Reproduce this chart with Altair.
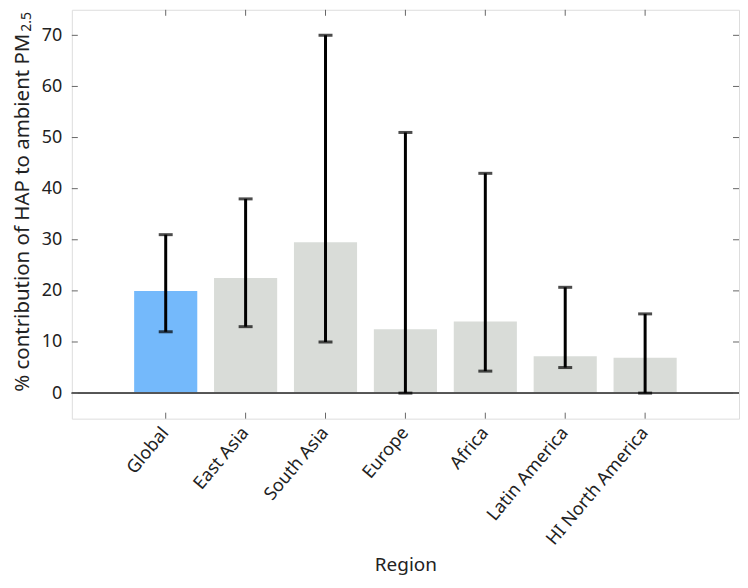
import altair as alt
import pandas as pd

regions = ["Global", "East Asia", "South Asia", "Europe", "Africa", "Latin America", "HI North America"]
values = [20.0, 22.5, 29.5, 12.5, 14.0, 7.2, 6.9]
lows = [12.0, 13.0, 10.0, 0.0, 4.3, 5.0, 0.0]
highs = [31.0, 38.0, 70.0, 51.0, 43.0, 20.7, 15.5]
groups = ["Global", "Region", "Region", "Region", "Region", "Region", "Region"]
y_ticks = [0, 10, 20, 30, 40, 50, 60, 70]
y_title = "% contribution of HAP to ambient PM"
y_title_sub = "2.5"

W, H = 669, 410
FONT = "Noto Sans"

df = pd.DataFrame({"region": regions, "value": values, "low": lows, "high": highs, "group": groups})
ticks_df = pd.DataFrame({"t": y_ticks})

xenc = alt.X("region:N", sort=regions, title="Region",
             scale=alt.Scale(paddingInner=0.21, paddingOuter=0.78),
             axis=alt.Axis(labelAngle=-50, ticks=False, domain=False, labelFontSize=18,
                           titleFontSize=19, titleFontWeight="normal", labelColor="#222",
                           titleColor="#222", labelPadding=11, titlePadding=7,
                           labelFont=FONT, titleFont=FONT))
yscale = alt.Scale(domain=[-5, 75], nice=False, zero=False)

base = alt.Chart(df)

bars = base.mark_bar().encode(
    x=xenc,
    y=alt.Y("value:Q", scale=yscale,
            title=y_title,
            axis=alt.Axis(values=y_ticks, ticks=False, domain=False, grid=False,
                          labelFontSize=18, titleFontSize=20.5, titleFontWeight="normal",
                          labelColor="#222", titleColor="#222", labelPadding=10,
                          titlePadding=9, titleY=203, labelFont=FONT, titleFont=FONT)),
    y2=alt.Y2(datum=0),
    color=alt.Color("group:N", scale=alt.Scale(domain=["Global", "Region"],
                                               range=["#74b9fb", "#d9dcd8"]), legend=None),
)

sub = alt.Chart(pd.DataFrame({"s": [y_title_sub]})).mark_text(
    angle=270, align="left", baseline="middle", fontSize=14, font=FONT, color="#222"
).encode(text="s:N", x=alt.value(-45), y=alt.value(22))

zero = alt.Chart(df).mark_rule(color="#555", strokeWidth=1).encode(
    y=alt.Y(datum=0, scale=yscale))

err = base.mark_rule(color="black", strokeWidth=3).encode(
    x=alt.X("region:N", sort=regions), y="low:Q", y2="high:Q")
cap_lo = base.mark_tick(color="black", thickness=3, size=14, orient="horizontal").encode(
    x=alt.X("region:N", sort=regions), y="low:Q")
cap_hi = base.mark_tick(color="black", thickness=3, size=14, orient="horizontal").encode(
    x=alt.X("region:N", sort=regions), y="high:Q")

top_ticks = base.mark_rule(color="#666", strokeWidth=1).encode(
    x=alt.X("region:N", sort=regions), y=alt.value(0), y2=alt.value(6))
bot_ticks = base.mark_rule(color="#666", strokeWidth=1).encode(
    x=alt.X("region:N", sort=regions), y=alt.value(H), y2=alt.value(H - 6))
left_ticks = alt.Chart(ticks_df).mark_rule(color="#666", strokeWidth=1).encode(
    y=alt.Y("t:Q", scale=yscale), x=alt.value(0), x2=alt.value(6))
right_ticks = alt.Chart(ticks_df).mark_rule(color="#666", strokeWidth=1).encode(
    y=alt.Y("t:Q", scale=yscale), x=alt.value(W), x2=alt.value(W - 6))

chart = alt.layer(bars, zero, err, cap_lo, cap_hi, top_ticks, bot_ticks, left_ticks,
                  right_ticks, sub).properties(
    width=W, height=H,
    padding={"left": 4, "top": 0, "right": 0, "bottom": 5},
).configure_view(stroke="#888", strokeWidth=1.5).configure(background="white")

chart.save("out.html", embed_options={"renderer": "svg", "actions": False})
